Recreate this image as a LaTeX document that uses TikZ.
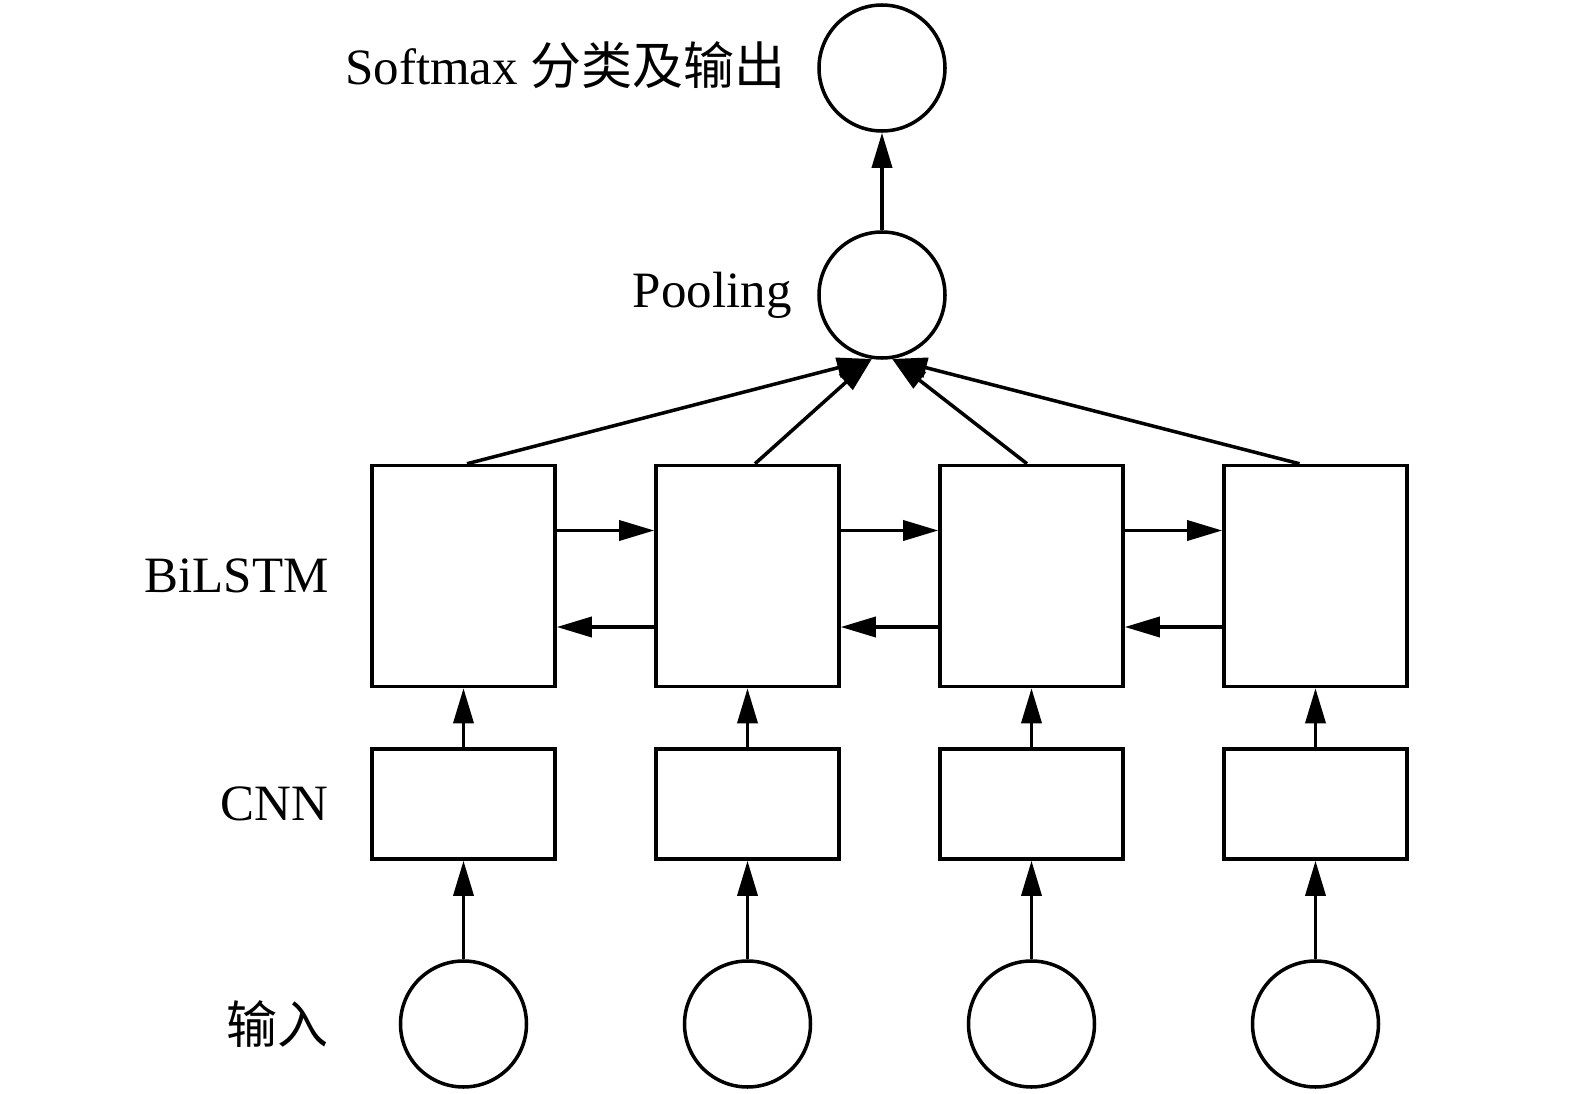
\documentclass[tikz,border=0pt]{standalone}
\usepackage{fontspec}
\setmainfont{Liberation Serif}
\newfontfamily\cjk{Noto Sans CJK SC}
\usepackage{tikz}
\usetikzlibrary{arrows.meta, positioning}
\tikzstyle{block} = [rectangle, draw=black, line width=1pt, minimum width=1.83cm, minimum height=2.21cm, inner sep=0pt]
\tikzstyle{cnnblock} = [block, minimum height=1.10cm]
\tikzstyle{unit} = [circle, draw=black, line width=1pt, minimum size=1.26cm, inner sep=0pt]
\tikzstyle{lbl} = [inner sep=0pt, font=\fontsize{14.5}{17}\selectfont]
\tikzstyle{arrow} = [line width=1pt, -{Triangle[length=0.35cm, width=0.2cm]}]

\begin{document}
\begin{tikzpicture}[node distance=2.84cm]
        \useasboundingbox (0,0) rectangle (15.75,-10.94);
        % BiLSTM cells
        \node [block] (lstm1) at (4.635,-5.76) {};
        \node [block, right of=lstm1] (lstm2) {};
        \node [block, right of=lstm2] (lstm3) {};
        \node [block, right of=lstm3] (lstm4) {};
        % CNN blocks
        \node [cnnblock, below of=lstm1, node distance=2.28cm] (cnn1) {};
        \node [cnnblock, below of=lstm2, node distance=2.28cm] (cnn2) {};
        \node [cnnblock, below of=lstm3, node distance=2.28cm] (cnn3) {};
        \node [cnnblock, below of=lstm4, node distance=2.28cm] (cnn4) {};
        % inputs
        \node [unit, below of=cnn1, node distance=2.20cm] (in1) {};
        \node [unit, below of=cnn2, node distance=2.20cm] (in2) {};
        \node [unit, below of=cnn3, node distance=2.20cm] (in3) {};
        \node [unit, below of=cnn4, node distance=2.20cm] (in4) {};
        % pooling and output
        \node [unit] (pool) at (8.82,-2.95) {};
        \node [unit, above of=pool, node distance=2.27cm] (out) {};

        % labels
        \node [lbl, left=0.41cm of lstm1] (lbllstm) {BiLSTM};
        \node [lbl, left=0.41cm of cnn1] (lblcnn) {CNN};
        \node [lbl, left=0.70cm of in1] (lblin) {\cjk 输入};
        \node [lbl, left=0.25cm of pool] (lblpool) {Pooling};
        \node [lbl, left=0.31cm of out, yshift=0.03cm] (lblout) {Softmax {\cjk 分类及输出}};

        % arrows
        \draw [arrow] (in1) -- (cnn1);
        \draw [arrow] (in2) -- (cnn2);
        \draw [arrow] (in3) -- (cnn3);
        \draw [arrow] (in4) -- (cnn4);
        \draw [arrow] (cnn1) -- (lstm1);
        \draw [arrow] (cnn2) -- (lstm2);
        \draw [arrow] (cnn3) -- (lstm3);
        \draw [arrow] (cnn4) -- (lstm4);
        \draw [arrow] ([yshift=0.455cm]lstm1.east) -- ([yshift=0.455cm]lstm2.west);
        \draw [arrow] ([yshift=0.455cm]lstm2.east) -- ([yshift=0.455cm]lstm3.west);
        \draw [arrow] ([yshift=0.455cm]lstm3.east) -- ([yshift=0.455cm]lstm4.west);
        \draw [arrow] ([yshift=-0.51cm]lstm2.west) -- ([yshift=-0.51cm]lstm1.east);
        \draw [arrow] ([yshift=-0.51cm]lstm3.west) -- ([yshift=-0.51cm]lstm2.east);
        \draw [arrow] ([yshift=-0.51cm]lstm4.west) -- ([yshift=-0.51cm]lstm3.east);
        \draw [arrow] ([xshift=0.035cm]lstm1.north) -- (pool.261);
        \draw [arrow] ([xshift=0.075cm]lstm2.north) -- (pool.261);
        \draw [arrow] ([xshift=-0.045cm]lstm3.north) -- (pool.279);
        \draw [arrow] ([xshift=-0.16cm]lstm4.north) -- (pool.279);
        \draw [arrow] (pool) -- (out);
    \end{tikzpicture}
\end{document}
